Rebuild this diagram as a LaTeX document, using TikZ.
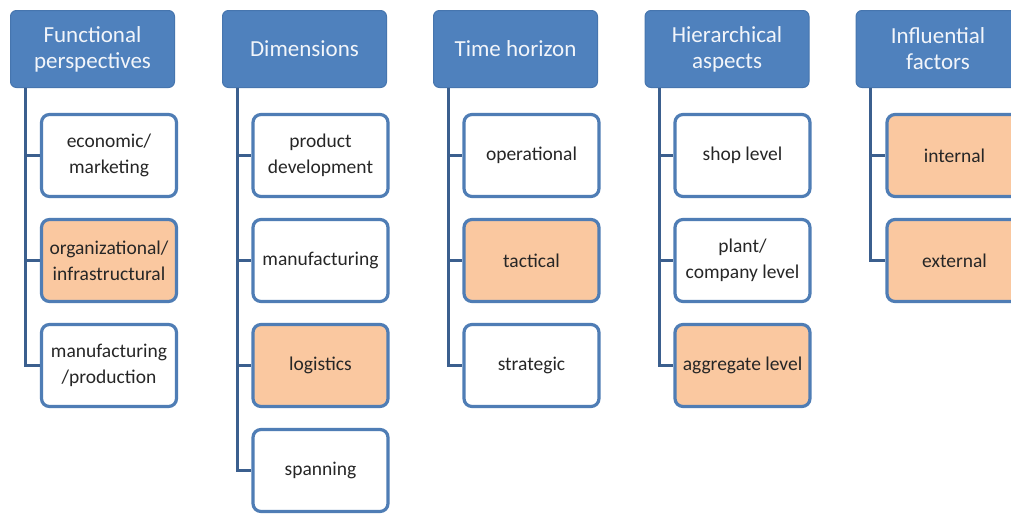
\documentclass[tikz,border=0pt]{standalone}
\usepackage{fontspec}
\setmainfont{Carlito}
\definecolor{hdrblue}{HTML}{4F81BD}
\definecolor{hdrline}{HTML}{4675AE}
\definecolor{boxline}{HTML}{4F7DB5}
\definecolor{orangefill}{HTML}{FAC8A0}
\definecolor{connblue}{HTML}{3B5F8E}
\definecolor{hdrtext}{HTML}{F2F5FA}
\tikzset{
  hdr/.style={draw=hdrline, line width=1pt, fill=hdrblue, rounded corners=6pt,
    minimum width=164pt, minimum height=77pt, align=center,
    text=hdrtext, font=\fontsize{23}{26}\selectfont, inner sep=0pt},
  kid/.style={draw=boxline, line width=3.2pt, fill=white, rounded corners=8pt,
    minimum width=135pt, minimum height=82pt, align=center,
    text=black!85, font=\fontsize{19.5}{26}\selectfont, inner sep=0pt},
  hot/.style={kid, fill=orangefill},
  conn/.style={draw=connblue, line width=3pt}
}
\begin{document}
\begin{tikzpicture}[x=1pt,y=-1pt]
\useasboundingbox (0,0) rectangle (1011,517);
\fill[white] (0,0) rectangle (1011,517);
% headers
\node[hdr] (h1) at (92.5,49) {Functional\\perspectives};
\node[hdr] (h2) at (304.5,49) {Dimensions};
\node[hdr] (h3) at (515.5,49) {Time horizon};
\node[hdr] (h4) at (727,49) {Hierarchical\\aspects};
\node[hdr] (h5) at (938,49) {Influential\\factors};
% column 1
\node[kid] (c11) at (109,155.5) {economic/\\marketing};
\node[hot] (c12) at (109,260.5) {organizational/\\infrastructural};
\node[kid] (c13) at (109,365.5) {manufacturing\\/production};
% column 2
\node[kid] (c21) at (320.5,155.5) {product\\development};
\node[kid] (c22) at (320.5,260.5) {manufacturing};
\node[hot] (c23) at (320.5,365.5) {logistics};
\node[kid] (c24) at (320.5,470.5) {spanning};
% column 3
\node[kid] (c31) at (531.5,155.5) {operational};
\node[hot] (c32) at (531.5,260.5) {tactical};
\node[kid] (c33) at (531.5,365.5) {strategic};
% column 4
\node[kid] (c41) at (742.5,155.5) {shop level};
\node[kid] (c42) at (742.5,260.5) {plant/\\company level};
\node[hot] (c43) at (742.5,365.5) {aggregate level};
% column 5
\node[hot] (c51) at (954.5,155.5) {internal};
\node[hot] (c52) at (954.5,260.5) {external};
% connector trunks
\coordinate (t1) at (25,88);
\coordinate (t2) at (237,88);
\coordinate (t3) at (448,88);
\coordinate (t4) at (659,88);
\coordinate (t5) at (870,88);
\draw[conn] (t1) |- (c13.west);
\draw[conn] (t1 |- c11.west) -- (c11.west);
\draw[conn] (t1 |- c12.west) -- (c12.west);
\draw[conn] (t2) |- (c24.west);
\draw[conn] (t2 |- c21.west) -- (c21.west);
\draw[conn] (t2 |- c22.west) -- (c22.west);
\draw[conn] (t2 |- c23.west) -- (c23.west);
\draw[conn] (t3) |- (c33.west);
\draw[conn] (t3 |- c31.west) -- (c31.west);
\draw[conn] (t3 |- c32.west) -- (c32.west);
\draw[conn] (t4) |- (c43.west);
\draw[conn] (t4 |- c41.west) -- (c41.west);
\draw[conn] (t4 |- c42.west) -- (c42.west);
\draw[conn] (t5) |- (c52.west);
\draw[conn] (t5 |- c51.west) -- (c51.west);
\end{tikzpicture}
\end{document}
